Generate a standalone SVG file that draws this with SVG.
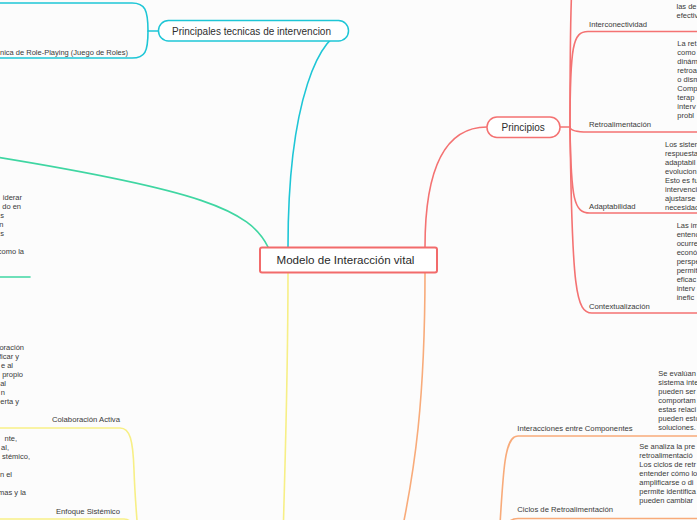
<svg xmlns="http://www.w3.org/2000/svg" width="697" height="520" viewBox="0 0 697 520">
<style>
text{font-family:"Liberation Sans",Arial,sans-serif;fill:#3a3a3a}
.d{font-size:7.5px}
.l{font-size:7.7px}
.n{font-size:10px;fill:#2e2e2e}
.c{fill:none;stroke-width:1.6;stroke-linecap:round}
.red{stroke:#f47272}
.cy{stroke:#1ec6d6}
.gr{stroke:#3fd6a2}
.ye{stroke:#f7ef86}
.or{stroke:#f8ab7a}
.e{text-anchor:end}
</style>
<rect x="0" y="0" width="697" height="520" fill="#fcfcfc"/>
<g id="connectors">
  <path class="c cy" d="M288,247 C288,100 320,31 348,31"/>
  <path class="c red" d="M425,247 C425,180 440,127 487,127"/>
  <path class="c gr" d="M268,247 C250,210 200,190 -10,156"/>
  <path class="c ye" d="M288,272 C288,380 285,460 283,540"/>
  <path class="c or" d="M425,272 C425,400 415,470 400,540"/>
  <!-- cyan children -->
  <path class="c cy" d="M158,31 H148 C148,10 145,3 132,3 H-10"/>
  <path class="c cy" d="M148,31 C148,52 145,58 132,58 H-10"/>
  <!-- red children -->
  <path class="c red" d="M560,127 H570"/>
  <path class="c red" d="M570,127 C570,-20 570,-60 590,-70"/>
  <path class="c red" d="M570,127 C570,45 573,31.5 588,31.5 H700"/>
  <path class="c red" d="M570,127 C570,130 574,132 588,132 H700"/>
  <path class="c red" d="M570,127 C571,200 574,213 590,213 H700"/>
  <path class="c red" d="M570,127 C572,290 576,313 592,313 H700"/>
  <!-- orange children -->
  <path class="c or" d="M498,560 C503,470 504,436 518,436 H700"/>
  <path class="c or" d="M498,560 C502,530 505,518.5 518,518.5 H700"/>
  <!-- yellow children -->
  <path class="c ye" d="M-10,428 H120 C130,428 133,440 134,470 C135,500 137,520 139,545"/>
  <path class="c ye" d="M-10,519 H124 C130,519 132,522 134,534"/>
  <!-- green child -->
  <path class="c gr" d="M-10,277 H30"/>
</g>
<g id="root">
  <rect x="260" y="247.5" width="177" height="25" rx="2" fill="#ffffff" stroke="#f26b6b" stroke-width="2"/>
  <text x="276.5" y="264" style="font-size:11.6px;fill:#2a2a2a">Modelo de Interacción vital</text>
</g>
<g id="principales-tecnicas">
  <rect x="158.5" y="20.5" width="190" height="20.5" rx="10" fill="#ffffff" stroke="#1ec6d6" stroke-width="1.5"/>
  <text class="n" x="172" y="34.5">Principales tecnicas de intervencion</text>
</g>
<g id="role-playing">
  <text class="d e" x="128" y="54.5">nica de Role-Playing (Juego de Roles)</text>
</g>
<g id="principios">
  <rect x="487" y="117" width="73" height="20.5" rx="10" fill="#ffffff" stroke="#f47272" stroke-width="1.5"/>
  <text class="n" x="501.5" y="131">Principios</text>
</g>
<g id="interconectividad">
  <text class="l" x="589" y="27">Interconectividad</text>
  <text class="d" x="676.5" y="8.5">las de</text>
  <text class="d" x="676.5" y="17.5">efectiv</text>
</g>
<g id="retroalimentacion">
  <text class="l" x="589" y="127">Retroalimentación</text>
  <text class="d" x="677.3" y="46">La ret</text>
  <text class="d" x="677.3" y="55">como</text>
  <text class="d" x="677.3" y="64">dinám</text>
  <text class="d" x="677.3" y="73">retroa</text>
  <text class="d" x="677.3" y="82">o dism</text>
  <text class="d" x="677.3" y="91">Comp</text>
  <text class="d" x="677.3" y="100">terap</text>
  <text class="d" x="677.3" y="109">interv</text>
  <text class="d" x="677.3" y="118">probl</text>
</g>
<g id="adaptabilidad">
  <text class="l" x="589" y="209">Adaptabilidad</text>
  <text class="d" x="665" y="146.5">Los sistem</text>
  <text class="d" x="665" y="155.5">respuesta</text>
  <text class="d" x="665" y="164.5">adaptabil</text>
  <text class="d" x="665" y="173.5">evolucion</text>
  <text class="d" x="665" y="182.5">Esto es fu</text>
  <text class="d" x="665" y="191.5">intervenci</text>
  <text class="d" x="665" y="200.5">ajustarse</text>
  <text class="d" x="665" y="209.5">necesidad</text>
</g>
<g id="contextualizacion">
  <text class="l" x="589" y="309">Contextualización</text>
  <text class="d" x="676.7" y="227.5">Las im</text>
  <text class="d" x="676.7" y="236.5">entenc</text>
  <text class="d" x="676.7" y="245.5">ocurre</text>
  <text class="d" x="676.7" y="254.5">econó</text>
  <text class="d" x="676.7" y="263.5">perspe</text>
  <text class="d" x="676.7" y="272.5">permit</text>
  <text class="d" x="676.7" y="281.5">eficac</text>
  <text class="d" x="676.7" y="290.5">interv</text>
  <text class="d" x="676.7" y="299.5">inefic</text>
</g>
<g id="interacciones">
  <text class="l" x="517.3" y="430.5">Interacciones entre Componentes</text>
  <text class="d" x="658.3" y="376">Se evalúan</text>
  <text class="d" x="658.3" y="385">sistema inte</text>
  <text class="d" x="658.3" y="394">pueden ser</text>
  <text class="d" x="658.3" y="403">comportam</text>
  <text class="d" x="658.3" y="412">estas relaci</text>
  <text class="d" x="658.3" y="421">pueden esto</text>
  <text class="d" x="658.3" y="430">soluciones.</text>
</g>
<g id="ciclos">
  <text class="l" x="517.3" y="512">Ciclos de Retroalimentación</text>
  <text class="d" x="639.3" y="448.5">Se analiza la pre</text>
  <text class="d" x="639.3" y="457.5">retroalimentació</text>
  <text class="d" x="639.3" y="466.5">Los ciclos de retr</text>
  <text class="d" x="639.3" y="475.5">entender cómo lo</text>
  <text class="d" x="639.3" y="484.5">amplificarse o di</text>
  <text class="d" x="639.3" y="493.5">permite identifica</text>
  <text class="d" x="639.3" y="502.5">pueden cambiar</text>
</g>
<g id="green-child">
  <text class="d e" x="22" y="200">iderar</text>
  <text class="d e" x="21" y="209">do en</text>
  <text class="d e" x="4" y="218">s</text>
  <text class="d e" x="3.5" y="227">n</text>
  <text class="d e" x="4" y="236">s</text>
  <text class="d e" x="24" y="254">como la</text>
</g>
<g id="colaboracion-activa">
  <text class="l e" x="120" y="422">Colaboración Activa</text>
  <text class="d e" x="24" y="350">oración</text>
  <text class="d e" x="19" y="359">ficar y</text>
  <text class="d e" x="13" y="368">e al</text>
  <text class="d e" x="23" y="377">propio</text>
  <text class="d e" x="6" y="386">al</text>
  <text class="d e" x="5" y="395">n</text>
  <text class="d e" x="19" y="404">erta y</text>
</g>
<g id="enfoque-sistemico">
  <text class="l e" x="120" y="514">Enfoque Sistémico</text>
  <text class="d e" x="17" y="441">nte,</text>
  <text class="d e" x="9" y="450">al,</text>
  <text class="d e" x="30" y="459">stémico,</text>
  <text class="d e" x="12" y="477">n el</text>
  <text class="d e" x="26" y="495">mas y la</text>
</g>
</svg>
